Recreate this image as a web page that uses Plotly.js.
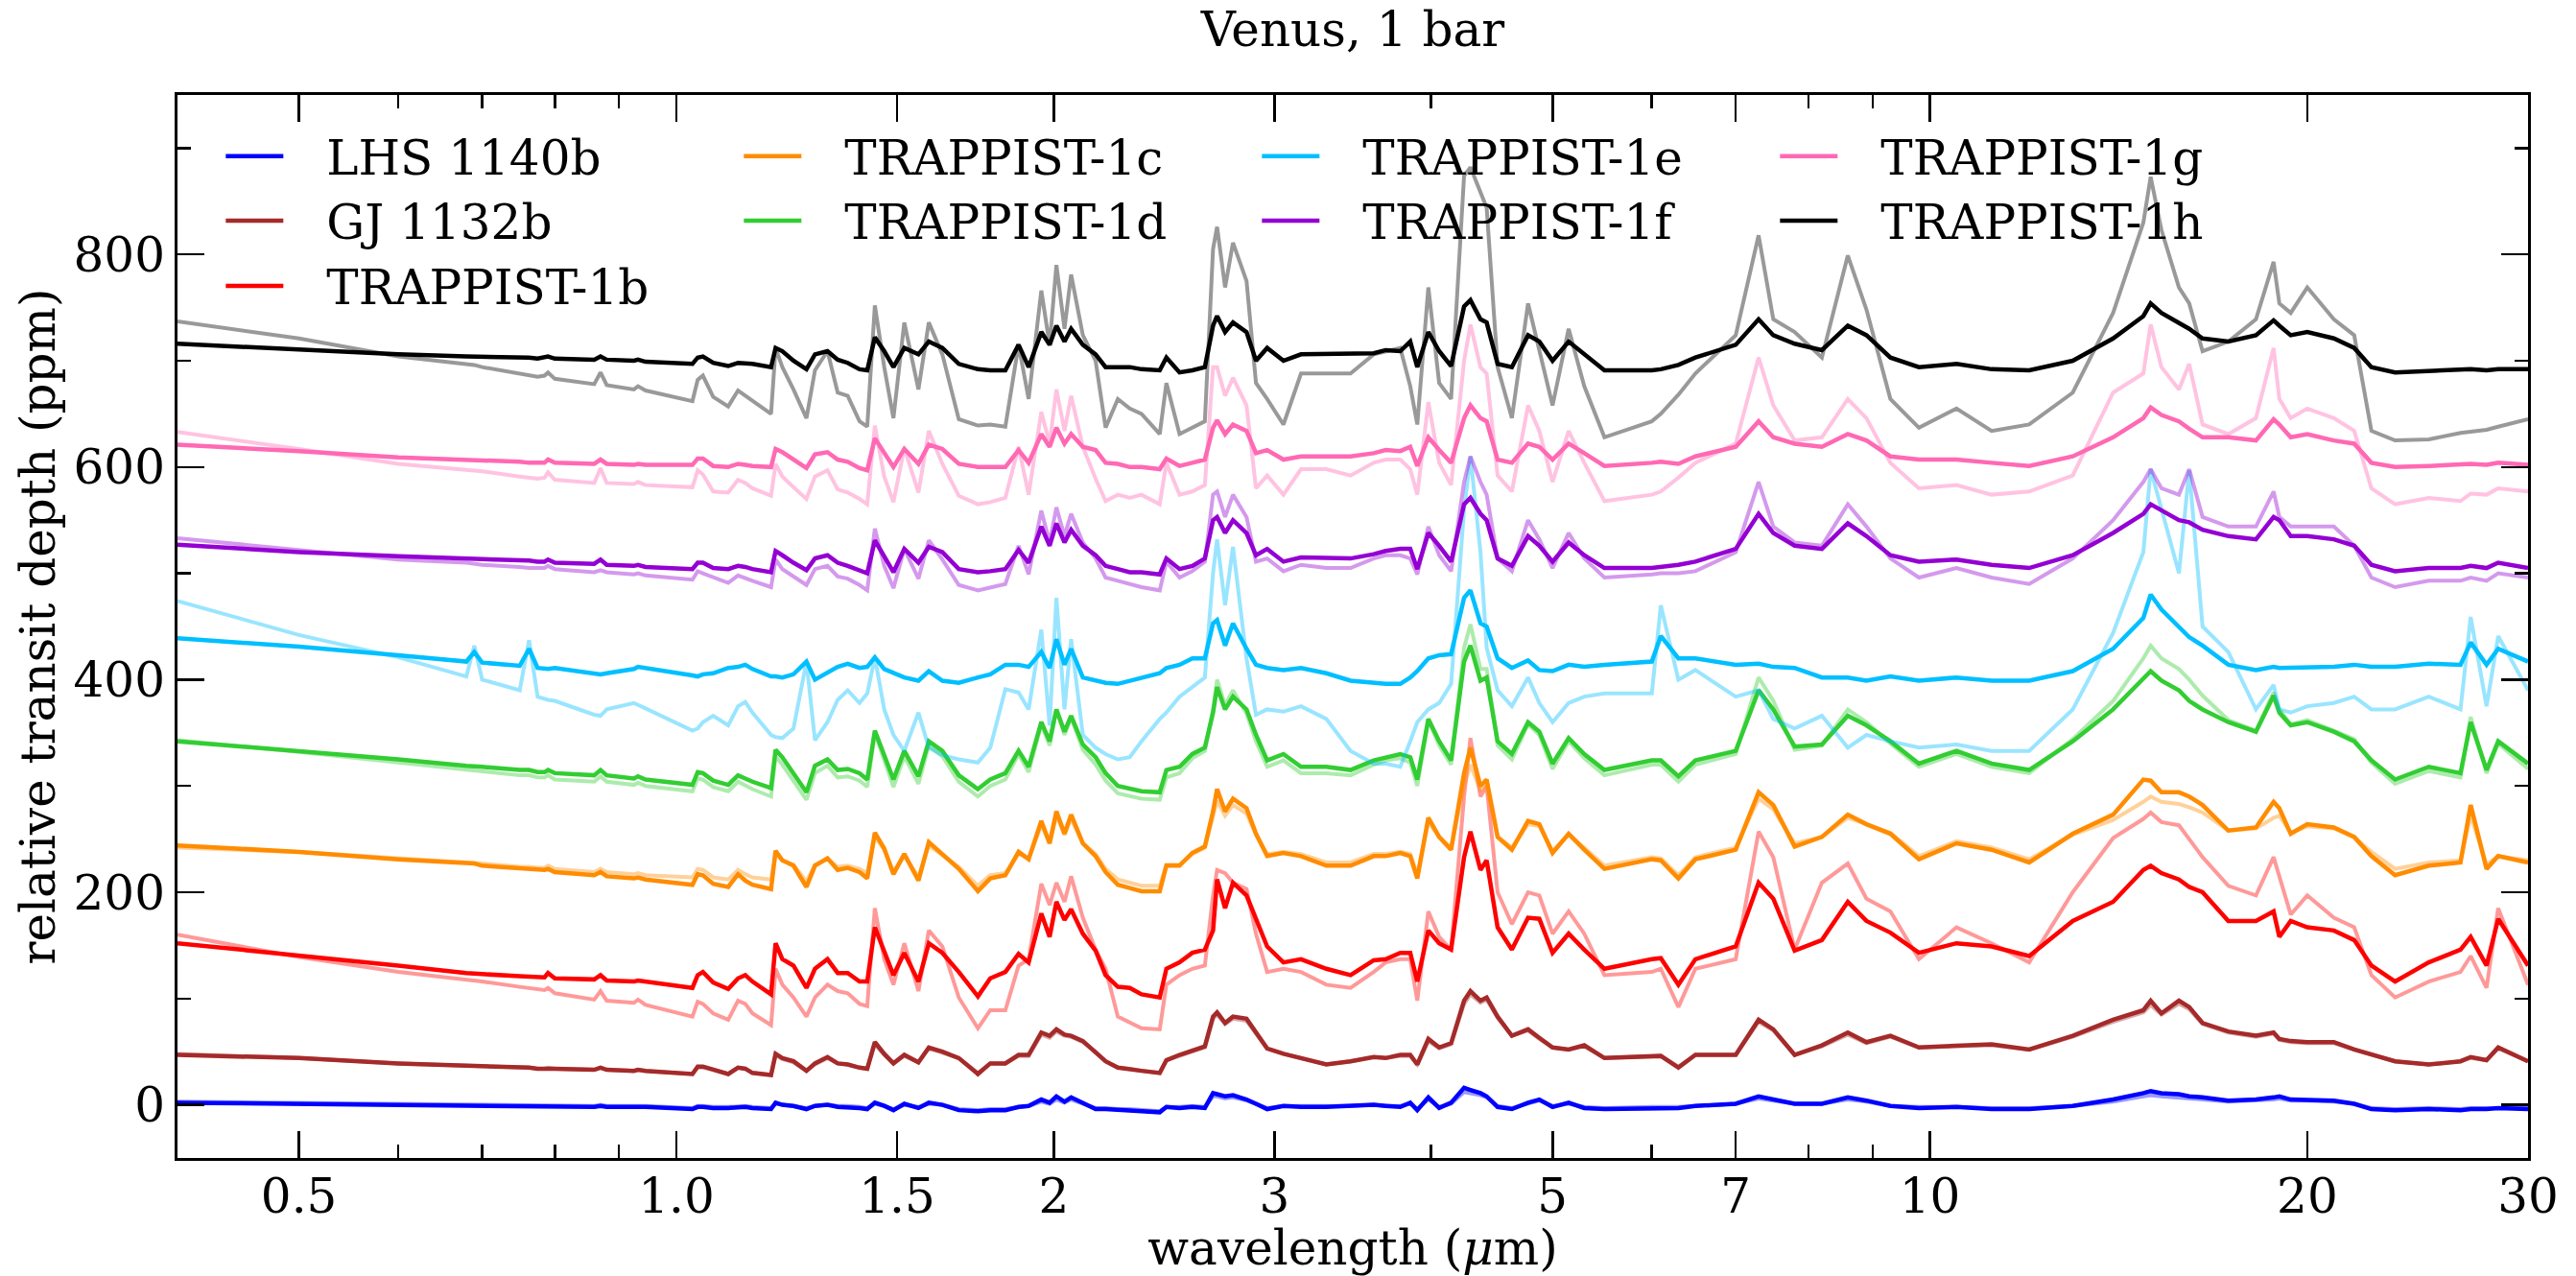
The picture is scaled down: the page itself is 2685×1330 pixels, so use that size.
<!DOCTYPE html>
<html><head><meta charset="utf-8">
<script src="https://cdn.plot.ly/plotly-3.0.1.min.js"></script>
<style>html,body{margin:0;padding:0;background:#fff}#chart{width:2685px;height:1330px}</style>
</head><body><div id="chart"></div>
<script>
// wavelength grid (micron)
const wavelength = [0.40,0.50,0.60,0.68,0.69,0.70,0.75,0.763,0.775,0.785,
0.79,0.80,0.86,0.87,0.88,0.925,0.932,0.945,1.03,1.04,
1.05,1.07,1.10,1.12,1.135,1.15,1.19,1.20,1.215,1.24,
1.27,1.29,1.32,1.345,1.37,1.40,1.42,1.44,1.465,1.49,
1.52,1.56,1.59,1.63,1.68,1.74,1.78,1.83,1.875,1.91,
1.955,1.985,2.01,2.04,2.065,2.11,2.16,2.20,2.25,2.30,
2.35,2.43,2.46,2.52,2.58,2.64,2.68,2.70,2.74,2.78,
2.85,2.90,2.96,3.05,3.15,3.30,3.45,3.60,3.68,3.78,
3.85,3.90,3.98,4.06,4.15,4.25,4.30,4.38,4.43,4.52,
4.64,4.78,4.88,5.00,5.15,5.30,5.50,6.00,6.10,6.30,
6.50,7.00,7.30,7.50,7.80,8.20,8.60,8.90,9.30,9.80,
10.5,11.2,12.0,13.0,14.0,14.8,15.0,15.3,15.8,
16.1,16.5,17.3,18.2,18.8,19.0,19.4,20.0,21.0,21.8,
22.5,23.5,25.0,26.5,27.0,27.8,28.4,30.0];

// relative transit depth (ppm), solid lines
const lhs1140b = [2,1,0,-1,-1,-1,-1,-1,-1,-1,
-1,-1,-2,-1,-2,-2,-2,-2,-4,-2,
-2,-3,-3,-2,-2,-3,-4,2,0,-1,
-4,-1,0,-2,-2,-3,-4,2,-1,-5,
1,-3,2,0,-5,-6,-5,-5,-2,-1,
5,2,8,3,7,2,-4,-4,-5,-5,
-6,-7,-2,-3,-2,-3,11,10,8,9,
5,1,-4,-1,-2,-2,-1,0,-1,-2,
2,-5,7,-3,2,16,14,11,8,-2,
-4,2,5,-2,2,-3,-4,-3,-3,-3,
-1,1,8,5,1,1,7,4,-1,-3,
-2,-4,-4,-1,5,11,13,11,10,
8,7,4,5,7,8,5,5,4,1,
-4,-5,-4,-5,-4,-4,-3,-4];
const gj1132b = [47,44,39,37,37,36,35,35,34,34,
35,34,33,35,33,32,33,32,29,36,
36,33,29,35,34,30,28,48,44,41,
32,39,45,39,38,35,34,59,48,39,
47,40,54,50,44,29,39,39,47,47,
68,65,71,66,65,60,50,41,35,34,
32,30,42,47,51,55,83,87,77,83,
81,68,53,48,44,38,41,45,44,47,
47,38,62,54,58,98,107,98,101,83,
65,71,63,54,52,56,44,45,46,35,
47,47,80,71,47,56,68,59,65,54,
56,57,52,65,80,89,98,86,98,
92,77,69,65,68,62,60,59,59,52,
47,41,38,41,45,42,54,41];
const trappist1b = [152,141,131,124,124,123,121,121,120,120,
124,119,118,122,117,116,117,116,110,122,
125,115,109,119,122,116,104,152,137,131,
110,128,137,124,124,116,116,167,143,122,
143,116,152,143,125,102,119,125,142,134,
180,158,191,174,184,161,145,122,111,110,
104,101,128,134,143,146,164,212,185,209,
197,174,149,134,137,128,122,136,137,143,
143,116,164,152,146,233,257,221,230,167,
146,176,175,143,161,146,128,137,138,113,
137,149,209,194,145,155,191,173,162,143,
152,149,140,173,191,221,225,218,212,
205,200,173,173,182,158,173,167,164,155,
131,116,134,146,158,131,175,131];
const trappist1c = [244,238,231,227,227,225,222,222,221,221,
222,219,216,219,215,213,214,212,207,217,
216,208,205,217,211,207,203,239,230,225,
205,225,232,221,223,219,213,256,241,217,
236,211,247,236,222,201,213,216,238,231,
267,246,276,255,273,246,234,219,207,204,
201,201,225,225,237,243,276,297,276,288,
279,255,234,237,234,225,225,234,234,237,
234,213,270,252,240,312,336,300,306,252,
240,267,264,237,255,240,222,231,230,213,
231,240,294,282,243,252,273,264,255,231,
246,240,228,255,273,306,305,294,294,
290,282,258,261,285,279,255,264,261,252,
234,216,225,228,282,222,234,228];
const trappist1d = [342,333,325,319,319,318,315,315,313,313,
315,312,310,315,310,307,309,306,301,313,
312,305,301,310,307,304,298,334,327,312,
294,319,325,315,316,312,306,352,330,306,
333,309,342,333,310,297,306,312,333,318,
360,342,372,351,366,339,327,312,300,297,
295,294,315,318,330,336,369,393,372,384,
372,348,324,330,318,318,315,324,327,330,
327,306,363,342,324,417,432,399,402,342,
330,360,351,321,345,330,315,324,324,309,
324,333,390,372,337,339,366,357,342,321,
333,321,315,342,372,402,408,399,390,
380,372,360,351,385,369,357,360,351,342,
324,306,318,312,360,315,342,321];
const trappist1e = [439,431,423,417,426,416,413,429,411,410,
410,411,406,405,406,410,412,411,404,403,
405,406,411,412,414,410,403,403,402,405,
417,400,406,412,415,411,412,421,410,406,
402,399,408,399,397,402,405,414,414,412,
426,411,438,414,429,402,399,397,396,399,
402,406,411,414,420,420,453,456,432,453,
429,414,411,409,411,406,399,397,396,396,
402,408,420,423,424,477,484,453,450,420,
411,418,409,408,414,412,414,417,441,420,
420,414,415,412,411,402,402,399,403,399,
402,399,399,408,429,458,480,466,450,
440,432,414,409,412,411,411,411,412,414,
412,412,415,414,435,414,429,417];
const trappist1f = [527,520,516,514,514,513,512,512,511,511,
513,510,509,513,508,507,508,506,504,510,
510,505,504,507,506,504,501,521,517,510,
503,514,517,510,507,503,500,531,516,501,
523,510,525,520,504,501,502,504,522,510,
544,526,547,529,541,526,517,507,504,501,
501,499,514,504,507,514,550,553,538,550,
538,517,523,511,515,514,514,518,521,523,
523,504,538,526,511,565,571,556,550,514,
507,535,526,511,529,517,505,505,506,508,
511,523,556,538,526,523,547,535,517,511,
513,508,505,517,538,556,565,559,550,
548,541,535,532,553,550,535,535,532,526,
508,502,505,505,507,505,510,505];
const trappist1g = [621,615,609,607,606,606,605,604,604,604,
607,604,603,607,603,602,603,602,602,608,
608,601,600,603,602,601,600,617,614,607,
599,612,614,607,605,599,597,627,614,600,
617,603,621,617,603,600,600,600,616,604,
631,619,637,622,631,619,616,604,603,600,
600,598,608,601,604,607,637,644,631,640,
634,613,616,607,610,610,610,613,616,615,
619,601,628,616,604,646,658,646,643,607,
604,622,619,607,622,613,601,604,605,603,
610,619,643,628,622,619,631,625,610,607,
607,604,601,610,628,646,656,649,643,
636,628,628,625,645,640,628,631,625,622,
604,600,601,602,603,602,604,602];
const trappist1h = [716,710,706,704,704,704,703,703,702,703,
704,702,701,704,701,700,701,699,697,703,
704,698,695,698,698,697,694,712,709,700,
692,706,709,701,698,692,691,722,709,694,
712,706,718,712,697,692,691,691,715,694,
727,715,733,718,730,715,706,694,694,694,
692,691,703,689,691,694,733,742,727,736,
727,700,712,700,706,706,706,707,710,709,
718,694,727,709,695,751,757,739,736,697,
694,724,718,700,718,706,691,691,692,696,
703,715,739,724,716,710,733,724,703,694,
697,692,691,700,721,742,754,745,736,
730,721,718,724,738,733,724,727,721,712,
694,689,690,691,692,691,692,692];

// relative transit depth (ppm), faded lines
const lhs1140bLight = [3,2,1,0,0,0,0,0,0,0,
0,0,-1,0,-1,-1,-1,-1,-3,-1,
-1,-2,-2,-1,-1,-2,-3,1,0,-1,
-3,-1,0,-1,-1,-2,-3,1,-1,-4,
0,-2,1,0,-4,-5,-4,-4,-2,-1,
3,1,5,2,5,1,-3,-3,-4,-4,
-5,-6,-2,-2,-1,-2,8,8,6,7,
4,1,-3,-1,-1,-1,-1,0,-1,-1,
1,-4,5,-2,1,12,11,9,7,-1,
-3,1,4,-1,1,-2,-3,-2,-2,-2,
-1,1,6,4,1,1,5,3,-1,-2,
-2,-3,-3,-1,3,8,9,8,7,
6,5,3,4,5,6,4,4,3,1,
-3,-4,-3,-4,-3,-3,-3,-3];
const gj1132bLight = [48,44,39,37,37,36,35,35,34,34,
35,34,33,35,33,32,33,32,29,35,
35,33,29,35,34,30,28,47,43,40,
32,38,44,39,38,35,34,57,47,39,
46,40,53,49,44,30,39,39,46,46,
66,63,69,65,64,59,50,41,35,34,
32,30,42,46,50,54,81,85,76,81,
79,67,53,48,44,38,41,45,44,46,
46,38,60,53,57,95,104,96,99,82,
65,70,62,54,52,55,44,45,46,36,
47,47,78,70,47,55,66,58,64,54,
55,56,52,64,78,87,94,85,95,
90,76,68,64,67,61,59,58,58,52,
47,41,38,41,44,42,53,41];
const trappist1bLight = [160,139,125,118,117,116,111,110,109,108,
110,105,99,107,98,96,99,94,83,97,
95,86,80,98,95,86,75,128,113,101,
83,101,113,107,105,95,93,185,137,113,
152,107,164,149,101,72,89,89,131,137,
208,188,209,191,215,176,146,128,83,77,
72,71,113,122,128,131,197,221,218,209,
203,161,125,128,125,113,110,125,134,137,
137,98,182,158,146,290,345,290,300,200,
170,200,197,161,182,161,122,125,128,92,
128,137,257,233,146,209,227,194,182,137,
167,152,134,200,251,269,275,266,263,
250,233,206,197,233,215,179,197,176,167,
122,101,116,125,140,110,185,113];
const trappist1cLight = [242,238,232,228,228,227,224,224,223,223,
225,222,219,222,219,217,218,216,214,222,
221,214,212,221,217,214,212,236,230,226,
210,226,231,224,225,222,218,252,240,220,
234,215,244,235,224,206,216,218,236,232,
263,246,272,254,269,246,236,222,212,209,
206,206,226,226,236,242,270,286,272,282,
274,254,236,238,236,228,228,236,236,238,
236,217,266,252,242,300,320,296,300,252,
242,264,262,239,254,242,225,233,232,216,
233,242,288,278,246,252,270,264,256,234,
248,242,231,254,268,285,290,285,283,
280,275,258,260,270,272,256,262,260,252,
238,222,228,230,272,226,234,230];
const trappist1dLight = [343,332,322,315,315,314,310,310,308,308,
310,306,304,309,304,301,303,300,295,307,
306,299,295,304,300,297,290,328,320,305,
287,312,319,308,309,305,299,350,324,299,
328,302,338,328,304,290,300,306,330,313,
358,338,372,348,364,334,320,305,293,290,
288,287,308,312,326,333,372,400,376,390,
368,342,318,324,312,312,310,320,324,326,
322,300,362,338,320,430,452,410,410,338,
325,358,348,316,342,326,310,320,320,304,
320,330,402,380,334,338,372,360,340,318,
330,318,312,344,380,420,432,420,410,
400,385,362,352,388,372,358,362,352,344,
322,302,314,308,365,312,340,316];
const trappist1eLight = [474,442,421,403,432,400,390,437,384,382,
381,380,367,366,372,378,376,373,352,354,
360,366,357,375,379,369,348,346,345,354,
417,343,360,381,390,378,387,421,372,348,
333,369,336,329,325,322,336,391,388,372,
447,357,477,372,438,348,336,330,325,327,
342,363,369,384,393,402,500,532,470,525,
420,367,372,370,375,363,333,321,321,318,
342,360,372,378,396,560,610,520,430,390,
375,402,378,360,378,384,387,387,470,400,
409,384,390,363,354,366,336,348,342,336,
339,333,333,372,444,520,598,560,500,
597,450,426,372,395,372,369,375,378,384,
372,372,384,372,459,375,441,390];
const trappist1fLight = [533,522,513,510,509,508,506,505,505,505,
507,504,501,503,501,499,500,498,494,502,
500,496,491,498,495,493,487,513,504,497,
489,504,507,497,495,489,484,542,507,486,
523,495,531,513,489,484,487,490,526,499,
559,529,562,535,556,529,514,496,493,490,
487,484,511,496,502,511,574,577,553,574,
553,511,514,502,508,505,505,514,517,517,
514,499,544,517,502,586,610,586,574,514,
502,550,532,505,538,514,496,499,500,500,
502,520,586,544,529,526,565,544,514,496,
505,496,490,514,550,586,598,580,574,
598,553,544,544,577,553,544,544,544,526,
496,487,493,493,496,493,500,496];
const trappist1gLight = [633,617,603,598,597,596,591,590,589,590,
595,588,585,599,585,584,586,583,581,597,
593,577,576,588,585,580,573,603,591,581,
570,591,597,579,576,570,565,639,591,567,
618,576,634,603,573,565,567,571,619,574,
652,622,673,634,667,619,589,568,574,571,
574,565,604,574,577,583,694,694,667,684,
658,580,592,574,598,598,592,604,607,607,
598,574,661,604,583,700,734,694,688,592,
577,658,634,586,634,604,568,574,577,590,
604,622,703,658,625,628,664,646,604,580,
583,574,577,592,670,688,734,694,673,
697,640,631,646,712,664,646,655,646,634,
580,565,571,568,575,574,580,577];
const trappist1hLight = [737,721,704,697,696,694,688,686,685,686,
689,683,678,689,677,673,676,672,662,682,
686,666,657,672,667,663,650,712,694,673,
646,691,709,670,667,643,638,752,694,646,
736,673,736,706,645,639,640,638,715,664,
766,715,790,730,781,724,700,637,664,655,
650,631,679,631,637,643,805,826,769,811,
775,679,664,640,688,688,688,706,709,712,
676,640,769,679,664,874,882,859,844,694,
646,754,709,658,730,676,628,643,650,668,
688,724,818,739,727,703,799,748,664,637,
655,634,640,670,745,830,873,823,769,
754,709,718,739,793,754,745,769,739,724,
634,625,626,632,633,635,638,645];

const planetNames = ['LHS 1140b','GJ 1132b','TRAPPIST-1b','TRAPPIST-1c','TRAPPIST-1d','TRAPPIST-1e','TRAPPIST-1f','TRAPPIST-1g','TRAPPIST-1h'];
const darkSeries = [lhs1140b,gj1132b,trappist1b,trappist1c,trappist1d,trappist1e,trappist1f,trappist1g,trappist1h];
const lightSeries = [lhs1140bLight,gj1132bLight,trappist1bLight,trappist1cLight,trappist1dLight,trappist1eLight,trappist1fLight,trappist1gLight,trappist1hLight];
const planetRGB = ['0,0,255','165,42,42','255,0,0','255,140,0','50,205,50','0,191,255','148,0,211','255,105,180','0,0,0'];
// legend layout: matplotlib fills 4 columns top-to-bottom; rows here
const legendRow = ['legend','legend2','legend3','legend','legend2','legend','legend2','legend','legend2'];
const legendRanks = [1,1,1,2,2,3,3,4,4];

const xTickVals = [0.5,1,1.5,2,3,5,7,10,20,30];
const xTickText = ['0.5','1.0','1.5','2','3','5','7','10','20','30'];
const xMinorVals = [0.6,0.7,0.8,0.9,4,6,8,9];
const yTickVals = [0,200,400,600,800];
const yMinorVals = [-100,100,300,500,700,900];

const legendGap = '\u2002\u2009\u200A';
const traces = [];
for (let i = 0; i < planetNames.length; i++) {
  traces.push({x: wavelength, y: lightSeries[i], type: 'scatter', mode: 'lines',
    line: {color: 'rgba(' + planetRGB[i] + ',0.4)', width: 4},
    showlegend: false, hoverinfo: 'skip'});
  traces.push({x: wavelength, y: darkSeries[i], type: 'scatter', mode: 'lines',
    name: legendGap + planetNames[i], legend: legendRow[i], legendrank: legendRanks[i],
    line: {color: 'rgb(' + planetRGB[i] + ')', width: 4.5}});
}

const font = {family: 'DejaVu Serif', size: 50, color: '#000'};
function legendAt(yPaper) {
  return {orientation: 'h', x: 0.0185, y: yPaper, xanchor: 'left', yanchor: 'middle',
          bgcolor: 'rgba(0,0,0,0)', borderwidth: 0, font: font,
          entrywidth: 465, entrywidthmode: 'pixels', itemwidth: 60,
          traceorder: 'normal'};
}
const layout = {
  width: 2685, height: 1330,
  margin: {l: 185, r: 50, t: 99, b: 123},
  paper_bgcolor: '#fff', plot_bgcolor: '#fff',
  font: font,
  title: {text: 'Venus, 1 bar', font: font, x: 0.5, xref: 'paper', xanchor: 'center',
          y: 0.977, yref: 'container', yanchor: 'middle'},
  showlegend: true,
  legend: legendAt(0.9425),
  legend2: legendAt(0.8818),
  legend3: legendAt(0.8205),
  xaxis: {type: 'log', range: [Math.log10(0.4), Math.log10(30)],
          tickmode: 'array', tickvals: xTickVals, ticktext: xTickText,
          ticks: 'inside', ticklen: 28, tickwidth: 2.5, tickcolor: '#000',
          ticklabelstandoff: -6,
          minor: {tickmode: 'array', tickvals: xMinorVals, ticks: 'inside', ticklen: 14, tickwidth: 2.5, tickcolor: '#000', showgrid: false},
          showline: true, linecolor: '#000', linewidth: 3, mirror: 'allticks',
          showgrid: false, zeroline: false, tickfont: font,
          title: {text: 'wavelength (<i>μ</i>m)', font: font, standoff: 27}},
  yaxis: {range: [-50, 950],
          tickmode: 'array', tickvals: yTickVals,
          ticks: 'inside', ticklen: 28, tickwidth: 2.5, tickcolor: '#000',
          minor: {tickmode: 'array', tickvals: yMinorVals, ticks: 'inside', ticklen: 14, tickwidth: 2.5, tickcolor: '#000', showgrid: false},
          showline: true, linecolor: '#000', linewidth: 3, mirror: 'allticks',
          showgrid: false, zeroline: false, tickfont: font,
          title: {text: 'relative transit depth (ppm)', font: font, standoff: 4}}
};
Plotly.newPlot('chart', traces, layout, {staticPlot: true, displayModeBar: false});
</script>
</body></html>
